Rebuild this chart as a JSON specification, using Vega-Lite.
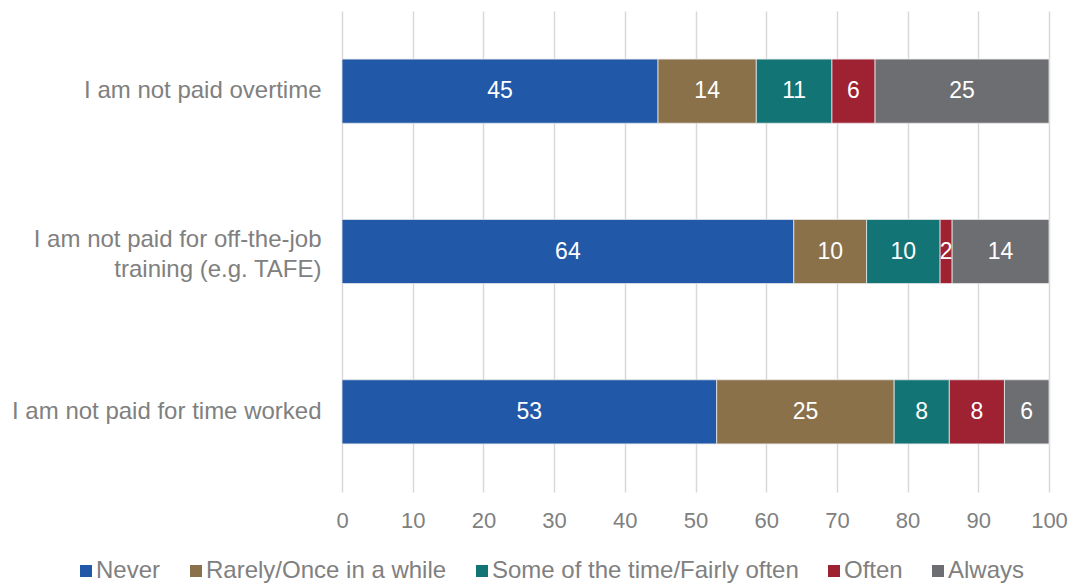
{
  "$schema": "https://vega.github.io/schema/vega-lite/v6.json",
  "autosize": "none",
  "width": 707,
  "height": 481,
  "padding": {"left": 342, "top": 11, "right": 22, "bottom": 91},
  "background": "white",
  "config": {
    "view": {"stroke": null},
    "font": "Liberation Sans",
    "axis": {"labelFont": "Liberation Sans", "labelColor": "#808080"},
    "legend": {"labelFont": "Liberation Sans", "labelColor": "#808080"}
  },
  "data": {
    "values": [
      {"question": "I am not paid overtime", "response": "Never", "value": 44.7},
      {"question": "I am not paid overtime", "response": "Rarely/Once in a while", "value": 13.9},
      {"question": "I am not paid overtime", "response": "Some of the time/Fairly often", "value": 10.7},
      {"question": "I am not paid overtime", "response": "Often", "value": 6.1},
      {"question": "I am not paid overtime", "response": "Always", "value": 24.6},
      {"question": "I am not paid for off-the-job training (e.g. TAFE)", "response": "Never", "value": 63.9},
      {"question": "I am not paid for off-the-job training (e.g. TAFE)", "response": "Rarely/Once in a while", "value": 10.3},
      {"question": "I am not paid for off-the-job training (e.g. TAFE)", "response": "Some of the time/Fairly often", "value": 10.4},
      {"question": "I am not paid for off-the-job training (e.g. TAFE)", "response": "Often", "value": 1.7},
      {"question": "I am not paid for off-the-job training (e.g. TAFE)", "response": "Always", "value": 13.7},
      {"question": "I am not paid for time worked", "response": "Never", "value": 53.0},
      {"question": "I am not paid for time worked", "response": "Rarely/Once in a while", "value": 25.1},
      {"question": "I am not paid for time worked", "response": "Some of the time/Fairly often", "value": 7.8},
      {"question": "I am not paid for time worked", "response": "Often", "value": 7.8},
      {"question": "I am not paid for time worked", "response": "Always", "value": 6.3}
    ]
  },
  "transform": [
    {"calculate": "indexof(['Never','Rarely/Once in a while','Some of the time/Fairly often','Often','Always'], datum.response)", "as": "rank"},
    {"stack": "value", "groupby": ["question"], "sort": [{"field": "rank", "order": "ascending"}], "as": ["start", "end"]},
    {"calculate": "(datum.start + datum.end) / 2", "as": "mid"}
  ],
  "encoding": {
    "y": {
      "field": "question",
      "type": "nominal",
      "sort": null,
      "scale": {"paddingInner": 0.6, "paddingOuter": 0.3},
      "axis": {
        "title": null,
        "ticks": false,
        "domain": false,
        "grid": false,
        "labelFontSize": 24,
        "labelPadding": 21,
        "labelLimit": 400,
        "labelLineHeight": 30,
        "labelOffset": {"condition": {"test": "datum.value == 'I am not paid for off-the-job training (e.g. TAFE)'", "value": -12}, "value": 0},
        "labelExpr": "datum.value == 'I am not paid for off-the-job training (e.g. TAFE)' ? ['I am not paid for off-the-job', 'training (e.g. TAFE)'] : datum.value"
      }
    }
  },
  "layer": [
    {
      "mark": {"type": "bar", "stroke": "#e8e8e8", "strokeWidth": 0.8},
      "encoding": {
        "x": {
          "field": "start",
          "type": "quantitative",
          "scale": {"domain": [0, 100], "nice": false},
          "axis": {
            "title": null,
            "values": [0, 10, 20, 30, 40, 50, 60, 70, 80, 90, 100],
            "ticks": false,
            "domain": false,
            "grid": true,
            "gridColor": "#d9d9d9",
            "gridWidth": 1.5,
            "labelFontSize": 22,
            "labelPadding": 18,
            "labelFlush": false
          }
        },
        "x2": {"field": "end"},
        "color": {
          "field": "response",
          "type": "nominal",
          "scale": {
            "domain": ["Never", "Rarely/Once in a while", "Some of the time/Fairly often", "Often", "Always"],
            "range": ["#2158A8", "#8B714A", "#137475", "#9F2233", "#6D6E71"]
          },
          "legend": {
            "title": null,
            "orient": "none",
            "direction": "horizontal",
            "legendX": -268,
            "legendY": 548,
            "symbolType": "square",
            "symbolSize": 144,
            "symbolStrokeWidth": 0,
            "labelFontSize": 24,
            "labelOffset": -2,
            "columnPadding": 23,
            "labelLimit": 400
          }
        }
      }
    },
    {
      "mark": {"type": "text", "color": "white", "fontSize": 23, "font": "Liberation Sans", "align": "center", "baseline": "middle"},
      "encoding": {
        "x": {"field": "mid", "type": "quantitative"},
        "text": {"field": "value", "type": "quantitative", "format": ".0f"}
      }
    }
  ]
}
